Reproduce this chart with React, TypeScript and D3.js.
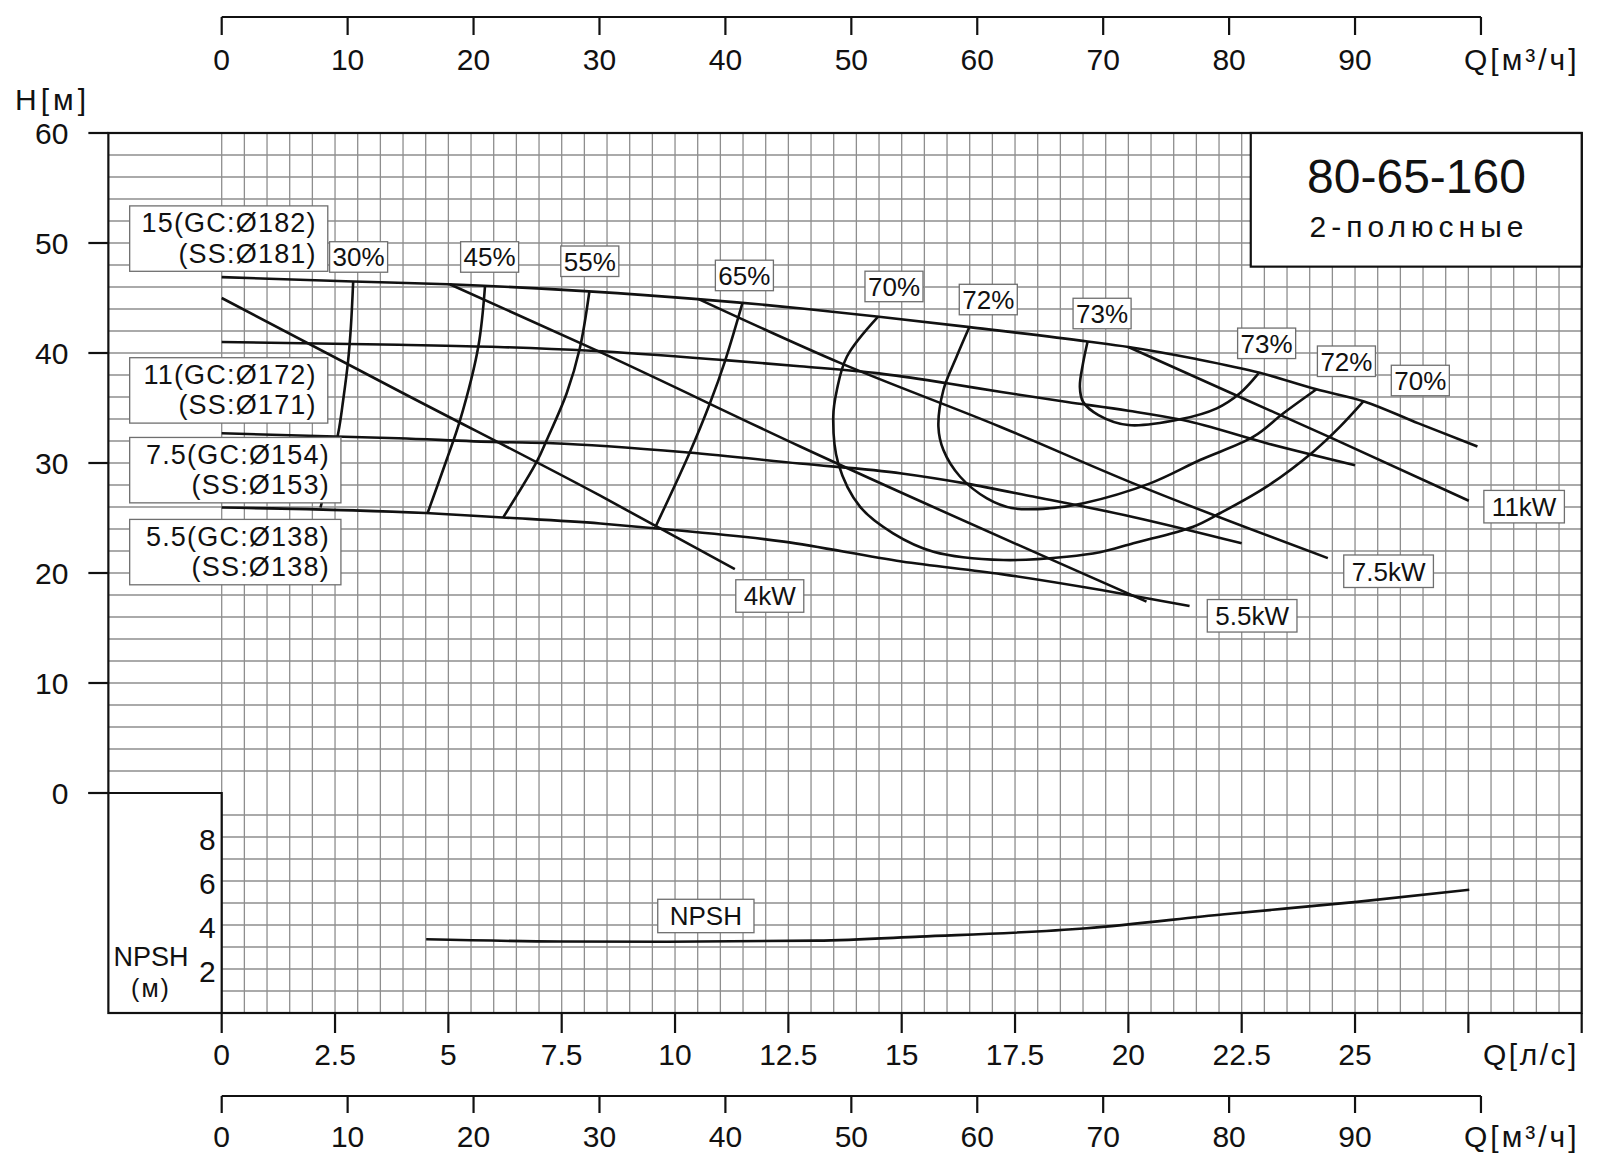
import * as d3 from "d3";

const FONT = "'Liberation Sans', Arial, Helvetica, sans-serif";

// axis ticks
const lsTicks = [0, 2.5, 5, 7.5, 10, 12.5, 15, 17.5, 20, 22.5, 25, 27.5, 30];
const lsTickLabels = ["0", "2.5", "5", "7.5", "10", "12.5", "15", "17.5", "20", "22.5", "25", "", ""];
const m3hTicks = [0, 10, 20, 30, 40, 50, 60, 70, 80, 90, 100];
const m3hTickLabels = ["0", "10", "20", "30", "40", "50", "60", "70", "80", "90", ""];
const headTicks = [0, 10, 20, 30, 40, 50, 60];
const npshTicks = [2, 4, 6, 8];

type Pt = [number, number]; // [Q л/с, H м]

// Q-H curves per impeller diameter
const head182: Pt[] = [[0, 46.9], [2.9, 46.5], [5.0, 46.25], [8.1, 45.6], [10.5, 44.9], [12.8, 44.05], [14.5, 43.3], [16.5, 42.35], [19.1, 41.05], [20.0, 40.55], [21.5, 39.45], [22.9, 38.2], [24.15, 36.7], [25.2, 35.6], [26.4, 33.6], [27.7, 31.5]];
const head172: Pt[] = [[0, 41.0], [3.9, 40.75], [6.1, 40.55], [8.15, 40.2], [11.1, 39.35], [12.75, 38.8], [14.5, 38.15], [16.0, 37.25], [17.2, 36.45], [18.65, 35.55], [20.0, 34.75], [21.2, 33.9], [23.05, 31.8], [25.0, 29.8]];
const head154: Pt[] = [[0, 32.7], [3.9, 32.25], [6.1, 31.9], [7.3, 31.8], [10.3, 30.95], [12.75, 29.95], [15.0, 29.05], [16.4, 28.15], [17.9, 26.95], [20.1, 25.1], [22.5, 22.7]];
const head138: Pt[] = [[0, 25.95], [4.5, 25.45], [6.2, 25.05], [8.35, 24.5], [9.6, 24.05], [12.4, 22.85], [15.0, 21.05], [17.2, 19.9], [19.4, 18.45], [21.35, 17.0]];

// motor power limit lines
const power4: Pt[] = [[0, 45.0], [3.93, 36.5], [8.34, 27.05], [11.32, 20.35]];
const power55: Pt[] = [[5.03, 46.25], [8.34, 40.1], [12.76, 31.5], [20.4, 17.4]];
const power75: Pt[] = [[10.52, 44.9], [13.64, 39.1], [17.17, 33.3], [20.11, 28.15], [24.4, 21.35]];
const power11: Pt[] = [[20.0, 40.55], [22.46, 36.0], [24.44, 32.35], [27.51, 26.57]];

// efficiency iso-lines
const eff30: Pt[] = [[2.9, 46.45], [2.85, 42.4], [2.79, 39.36], [2.68, 35.73], [2.57, 32.7], [2.18, 25.95]];
const eff45: Pt[] = [[5.81, 46.18], [5.66, 40.57], [5.26, 33.91], [4.96, 30.27], [4.54, 25.43]];
const eff55: Pt[] = [[8.11, 45.57], [7.9, 40.43], [7.61, 36.34], [7.17, 32.09], [6.95, 30.12], [6.21, 25.06]];
const eff65: Pt[] = [[11.49, 44.57], [11.11, 39.36], [10.77, 35.43], [10.31, 30.82], [9.57, 24.21]];
const eff70: Pt[] = [[14.48, 43.3], [13.79, 39.66], [13.57, 36.64], [13.49, 34.21], [13.6, 29.97], [14.08, 26.03], [14.81, 23.61], [15.7, 21.94], [17.24, 21.18], [18.64, 21.48], [19.37, 21.88], [20.11, 22.7], [21.43, 24.21], [22.02, 25.43], [23.05, 27.85], [24.08, 31.03], [24.67, 33.3], [25.18, 35.57]];
const eff72: Pt[] = [[16.49, 42.34], [16.21, 39.66], [15.92, 36.64], [15.81, 33.3], [15.92, 31.18], [16.29, 28.75], [16.88, 26.79], [17.46, 25.88], [18.27, 25.88], [19.01, 26.34], [20.48, 28.15], [21.58, 30.27], [22.76, 32.39], [23.42, 34.52], [24.15, 36.7]];
const eff73: Pt[] = [[19.1, 41.03], [19.0, 39.06], [18.93, 36.94], [19.0, 35.57], [19.34, 34.36], [20.0, 33.45], [21.14, 33.97], [21.95, 34.97], [22.46, 36.34], [22.87, 38.15]];

// NPSH curve [Q л/с, NPSH м]
const npshCurve: Pt[] = [[4.51, 3.35], [7.47, 3.25], [9.82, 3.24], [13.13, 3.29], [15.4, 3.47], [19.08, 3.85], [22.12, 4.49], [25.04, 5.05], [27.52, 5.6]];

// annotations (data coordinates of label centres)
const effLabels = [
  { text: "30%", q: 3.02, h: 48.73 },
  { text: "45%", q: 5.91, h: 48.73 },
  { text: "55%", q: 8.12, h: 48.34 },
  { text: "65%", q: 11.53, h: 47.05 },
  { text: "70%", q: 14.83, h: 46.05 },
  { text: "72%", q: 16.91, h: 44.86 },
  { text: "73%", q: 19.42, h: 43.59 },
  { text: "73%", q: 23.05, h: 40.88 },
  { text: "72%", q: 24.81, h: 39.25 },
  { text: "70%", q: 26.44, h: 37.5 },
];
const powerLabels = [
  { text: "4kW", q: 12.09, h: 17.91 },
  { text: "5.5kW", q: 22.73, h: 16.11 },
  { text: "7.5kW", q: 25.74, h: 20.16 },
  { text: "11kW", q: 28.73, h: 26.03 },
];
const diaLabels = [
  { lines: ["15(GC:Ø182)", "(SS:Ø181)"], q0: -2.03, q1: 2.34, h: 50.4 },
  { lines: ["11(GC:Ø172)", "(SS:Ø171)"], q0: -2.03, q1: 2.34, h: 36.6 },
  { lines: ["7.5(GC:Ø154)", "(SS:Ø153)"], q0: -2.03, q1: 2.63, h: 29.35 },
  { lines: ["5.5(GC:Ø138)", "(SS:Ø138)"], q0: -2.03, q1: 2.63, h: 21.9 },
];

let ctx: CanvasRenderingContext2D | null = null;
function textWidth(t: string, size: number) {
  if (!ctx) ctx = document.createElement("canvas").getContext("2d");
  if (!ctx) return t.length * size * 0.55;
  ctx.font = `${size}px 'Liberation Sans'`;
  return ctx.measureText(t).width;
}

export default function App() {
  const width = 1600, height = 1170;
  const x = d3.scaleLinear().domain([0, 30]).range([221.7, 1581.7]);
  const xM = d3.scaleLinear().domain([0, 100]).range([x(0), x(100 / 3.6)]);
  const y = d3.scaleLinear().domain([0, 60]).range([793, 133]);
  const yN = d3.scaleLinear().domain([0, 10]).range([1013, 793]);

  const qLeft = -2.5;
  const line = d3.line<Pt>().x(d => x(d[0])).y(d => y(d[1])).curve(d3.curveMonotoneX);
  const loop = d3.line<Pt>().x(d => x(d[0])).y(d => y(d[1])).curve(d3.curveCatmullRom.alpha(0.5));
  const npshLine = d3.line<Pt>().x(d => x(d[0])).y(d => yN(d[1])).curve(d3.curveMonotoneX);

  const grid = "#8e8e8e";
  const curveW = 2.6;

  const heads = [head182, head172, head154, head138];
  const powers = [power4, power55, power75, power11];
  const effs = [eff30, eff45, eff55, eff65, eff70, eff72, eff73];

  const topAxisY = 17, botAxisY = 1096;

  const box = (key: string, text: string, cx: number, cy: number, size: number, pad: number, h: number) => {
    const w = textWidth(text, size) + pad * 2;
    return (
      <g key={key}>
        <rect x={cx - w / 2} y={cy - h / 2} width={w} height={h} fill="#fff" stroke="#6f6f6f" strokeWidth={1.3} />
        <text x={cx} y={cy + size * 0.36} textAnchor="middle" fontSize={size}>{text}</text>
      </g>
    );
  };

  return (
    <svg width={width} height={height} viewBox={`0 0 ${width} ${height}`}
      style={{ position: "absolute", left: 0, top: 0, display: "block", background: "#fff" }}
      fontFamily={FONT} fill="#111">
      {/* grid */}
      <g stroke={grid} strokeWidth={1.3}>
        {d3.range(0, 30.01, 0.5).map(q => (
          <line key={"v" + q} x1={x(q)} x2={x(q)} y1={y(60)} y2={yN(0)} />
        ))}
        {d3.range(2, 60, 2).map(h => (
          <line key={"h" + h} x1={x(qLeft)} x2={x(30)} y1={y(h)} y2={y(h)} />
        ))}
        {d3.range(0, 10, 1).map(n => (
          <line key={"n" + n} x1={x(0)} x2={x(30)} y1={yN(n)} y2={yN(n)} />
        ))}
      </g>

      {/* frame */}
      <rect x={x(qLeft)} y={y(60)} width={x(30) - x(qLeft)} height={yN(0) - y(60)} fill="none" stroke="#111" strokeWidth={2.2} />
      <path d={`M${x(qLeft) - 20},${y(0)}H${x(0)}V${yN(0)}`} fill="none" stroke="#111" strokeWidth={2.2} />

      {/* head axis */}
      {headTicks.map(h => (
        <g key={"yt" + h}>
          <line x1={x(qLeft) - 20} x2={x(qLeft)} y1={y(h)} y2={y(h)} stroke="#111" strokeWidth={2.2} />
          <text x={x(qLeft) - 40} y={y(h) + 11} textAnchor="end" fontSize={30}>{h}</text>
        </g>
      ))}
      <text x={15} y={110} fontSize={30} letterSpacing={4}>H[м]</text>

      {/* NPSH axis */}
      {npshTicks.map(n => (
        <text key={"nt" + n} x={x(0) - 6} y={yN(n) + 12.5} textAnchor="end" fontSize={30}>{n}</text>
      ))}
      <text x={151} y={966} textAnchor="middle" fontSize={27}>NPSH</text>
      <text x={151} y={997} textAnchor="middle" fontSize={25} letterSpacing={2}>(м)</text>

      {/* flow axes */}
      <g stroke="#111" strokeWidth={2.2}>
        <line x1={xM(0)} x2={xM(100)} y1={topAxisY} y2={topAxisY} />
        {m3hTicks.map(t => <line key={"tt" + t} x1={xM(t)} x2={xM(t)} y1={topAxisY} y2={topAxisY + 18} />)}
        <line x1={xM(0)} x2={xM(100)} y1={botAxisY} y2={botAxisY} />
        {m3hTicks.map(t => <line key={"bt" + t} x1={xM(t)} x2={xM(t)} y1={botAxisY} y2={botAxisY + 17} />)}
        {lsTicks.map(t => <line key={"lt" + t} x1={x(t)} x2={x(t)} y1={yN(0)} y2={yN(0) + 20} />)}
      </g>
      {m3hTicks.map((t, i) => (
        <text key={"ttl" + t} x={xM(t)} y={69.5} textAnchor="middle" fontSize={30}>{m3hTickLabels[i]}</text>
      ))}
      {m3hTicks.map((t, i) => (
        <text key={"btl" + t} x={xM(t)} y={1147} textAnchor="middle" fontSize={30}>{m3hTickLabels[i]}</text>
      ))}
      {lsTicks.map((t, i) => (
        <text key={"ltl" + t} x={x(t)} y={1065} textAnchor="middle" fontSize={30}>{lsTickLabels[i]}</text>
      ))}
      <text x={1464} y={69.5} fontSize={30} letterSpacing={3}>Q[м³/ч]</text>
      <text x={1464} y={1147} fontSize={30} letterSpacing={3}>Q[м³/ч]</text>
      <text x={1483} y={1065} fontSize={30} letterSpacing={2.5}>Q[л/с]</text>

      {/* curves */}
      <g fill="none" stroke="#111" strokeWidth={curveW} strokeLinejoin="round">
        {heads.map((c, i) => <path key={"hd" + i} d={line(c) ?? ""} />)}
        {powers.map((c, i) => <path key={"pw" + i} d={line(c) ?? ""} />)}
        {effs.map((c, i) => <path key={"ef" + i} d={loop(c) ?? ""} />)}
        <path d={npshLine(npshCurve) ?? ""} />
      </g>

      {/* labels */}
      {diaLabels.map((d, i) => {
        const x0 = x(d.q0), x1 = x(d.q1), cy = y(d.h);
        return (
          <g key={"dl" + i}>
            <rect x={x0} y={cy - 32.7} width={x1 - x0} height={65.4} fill="#fff" stroke="#6f6f6f" strokeWidth={1.3} />
            <text x={x1 - 11} y={cy - 6.5} textAnchor="end" fontSize={27} letterSpacing={1.2}>{d.lines[0]}</text>
            <text x={x1 - 11} y={cy + 24} textAnchor="end" fontSize={27} letterSpacing={1.2}>{d.lines[1]}</text>
          </g>
        );
      })}
      {effLabels.map((d, i) => box("el" + i, d.text, x(d.q), y(d.h), 26, 3, 30.5))}
      {powerLabels.map((d, i) => box("pl" + i, d.text, x(d.q), y(d.h), 26, 8, 32.5))}
      {box("npl", "NPSH", x(10.68), yN(4.41), 26, 12, 33.4)}

      {/* title block */}
      <rect x={x(22.7)} y={y(60)} width={x(30) - x(22.7)} height={y(47.85) - y(60)} fill="#fff" stroke="#111" strokeWidth={2.2} />
      <text x={1416.5} y={193} textAnchor="middle" fontSize={48}>80-65-160</text>
      <text x={1419} y={237} textAnchor="middle" fontSize={30} letterSpacing={5}>2-полюсные</text>
    </svg>
  );
}
